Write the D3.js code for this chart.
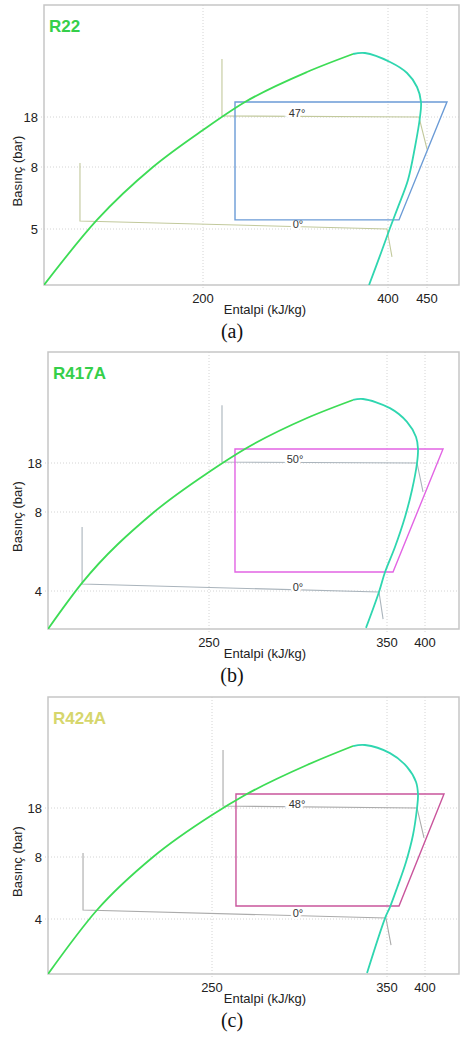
<!DOCTYPE html>
<html>
<head>
<meta charset="utf-8">
<script src="https://cdn.jsdelivr.net/npm/d3@7"></script>
<style>
  body { margin: 0; background: #fff; }
  text { font-family: "Liberation Sans", Arial, sans-serif; }
</style>
</head>
<body>
<div id="chart"></div>
<script>
var svgWidth = 460;
var svgHeight = 1037;

// ---- R22 (a) ----
var r22Name = "R22";
var r22XTicks = [200, 400, 450];
var r22YTicks = [5, 8, 18];
var r22Liquid = [[28.1, 2.29], [85.4, 5.44], [145.9, 8], [200, 15.4], [245.4, 21], [312.4, 27], [362.2, 30.6]];
var r22Vapor = [[362.2, 30.6], [375.1, 30.8], [402.6, 29], [424.4, 26.8], [437.2, 24], [442.3, 21], [441, 18],
                [434.6, 12], [425.6, 7.37], [412.8, 6.06], [402.6, 5.05], [392.4, 3.84], [379.5, 2.29]];
var r22Box = [[234.6, 21], [475.6, 21], [414.1, 5.44], [234.6, 5.44]];
var r22High = [[220.5, 29.6], [220.5, 18.2], [439.7, 18], [450, 11.6]];
var r22Low = [[67, 8.8], [67, 5.39], [398.9, 5], [405.1, 3.65]];
var r22Temps = [["47°", 301.6, 18.8], ["0°", 302.7, 5.24]];

// ---- R417A (b) ----
var r417Name = "R417A";
var r417XTicks = [250, 350, 400];
var r417YTicks = [4, 8, 18];
var r417Liquid = [[159.6, 2.08], [178.7, 4.41], [218.5, 7.95], [250, 16.16], [270.2, 20.86], [305.1, 27.18],
                  [330.9, 30.86]];
var r417Vapor = [[330.9, 30.86], [336.5, 31.06], [353.9, 29.2], [376.3, 26.4], [388.2, 23.3], [390.8, 20.86],
                 [389.5, 18], [382.9, 12.49], [373.7, 7.75], [360.5, 6.23], [348.9, 4.96], [345.5, 3.95], [338.2, 2.13]];
var r417Box = [[264.6, 20.86], [423.7, 20.86], [357.9, 4.96], [264.6, 4.96]];
var r417High = [[257.3, 29.8], [257.3, 18.2], [389.5, 18], [397.4, 12.1]];
var r417Low = [[178.7, 7.24], [178.7, 4.35], [345.5, 3.95], [347.8, 2.58]];
var r417Temps = [["50°", 298.3, 18.8], ["0°", 300, 4.2]];

// ---- R424A (c) ----
var r424Name = "R424A";
var r424XTicks = [250, 350, 400];
var r424YTicks = [4, 8, 18];
var r424Liquid = [[156.3, 0.45], [184.3, 4.58], [216.3, 8], [250, 16.57], [268.9, 20.65], [304.3, 26.78],
                  [330.6, 30.65]];
var r424Vapor = [[330.6, 30.65], [337.4, 30.86], [353.9, 29.2], [376.3, 26.4], [388.2, 23.3], [390.8, 20.65],
                 [389.5, 18], [384.2, 12.49], [375, 7.68], [363.2, 6.0], [353.9, 4.77], [348.9, 4.06], [338.6, 0.52]];
var r424Box = [[263.7, 20.86], [425, 20.86], [365.8, 4.84], [263.7, 4.84]];
var r424High = [[256.3, 29.84], [256.3, 18.4], [389.5, 18], [398.7, 11.88]];
var r424Low = [[176.3, 8.8], [176.3, 4.58], [349.4, 4.06], [355.3, 2.32]];
var r424Temps = [["48°", 298.6, 18.8], ["0°", 299.1, 4.39]];

// layout of the three frames (pixel positions of frame + tick marks)
var panels = [
  { name: r22Name, xTicks: r22XTicks, yTicks: r22YTicks, liquid: r22Liquid, vapor: r22Vapor,
    box: r22Box, high: r22High, low: r22Low, temps: r22Temps, caption: "(a)",
    top: 5, bottom: 285, left: 44, right: 459,
    xAt: [203, 388, 427], yAt: [229, 167, 117],
    titleColor: "#35cf4a", boxColor: "#6b9bd6", cycleColor: "#c2c99c" },
  { name: r417Name, xTicks: r417XTicks, yTicks: r417YTicks, liquid: r417Liquid, vapor: r417Vapor,
    box: r417Box, high: r417High, low: r417Low, temps: r417Temps, caption: "(b)",
    top: 352, bottom: 629, left: 48, right: 459,
    xAt: [209, 387, 425], yAt: [591, 512, 463],
    titleColor: "#35cf4a", boxColor: "#e264e4", cycleColor: "#aab4bc" },
  { name: r424Name, xTicks: r424XTicks, yTicks: r424YTicks, liquid: r424Liquid, vapor: r424Vapor,
    box: r424Box, high: r424High, low: r424Low, temps: r424Temps, caption: "(c)",
    top: 697, bottom: 974, left: 48, right: 459,
    xAt: [212, 387, 425], yAt: [919, 857, 808],
    titleColor: "#d6d66c", boxColor: "#c9559c", cycleColor: "#ababab" }
];

var svg = d3.select("#chart")
  .append("svg")
  .attr("width", svgWidth)
  .attr("height", svgHeight);

panels.forEach(function(pn, i) {
  var x = d3.scaleLinear().domain(pn.xTicks).range(pn.xAt);
  var y = d3.scaleLinear().domain(pn.yTicks).range(pn.yAt);
  var line = d3.line().x(d => x(d[0])).y(d => y(d[1]));
  var liquidLine = d3.line().x(d => x(d[0])).y(d => y(d[1])).curve(d3.curveMonotoneX);
  var vaporLine = d3.line().x(d => x(d[0])).y(d => y(d[1])).curve(d3.curveCatmullRom.alpha(0.5));

  var g = svg.append("g");

  g.append("clipPath").attr("id", "clip" + i)
    .append("rect")
    .attr("x", pn.left).attr("y", pn.top)
    .attr("width", pn.right - pn.left).attr("height", pn.bottom - pn.top);

  // dotted grid
  g.selectAll(".vgrid").data(pn.xTicks).enter().append("line")
    .attr("x1", d => x(d)).attr("x2", d => x(d))
    .attr("y1", pn.top).attr("y2", pn.bottom + 3)
    .attr("stroke", "#d4d4d4").attr("stroke-dasharray", "1,2");
  g.selectAll(".hgrid").data(pn.yTicks).enter().append("line")
    .attr("x1", pn.left - 3).attr("x2", pn.right)
    .attr("y1", d => y(d)).attr("y2", d => y(d))
    .attr("stroke", "#d4d4d4").attr("stroke-dasharray", "1,2");

  // frame
  g.append("rect")
    .attr("x", pn.left).attr("y", pn.top)
    .attr("width", pn.right - pn.left).attr("height", pn.bottom - pn.top)
    .attr("fill", "none").attr("stroke", "#c6c6c6").attr("stroke-width", 1.5);

  var plot = g.append("g").attr("clip-path", "url(#clip" + i + ")");

  // cycle lines
  [pn.high, pn.low].forEach(function(seg) {
    plot.append("path").attr("d", line(seg))
      .attr("fill", "none").attr("stroke", pn.cycleColor).attr("stroke-width", 1.1);
  });

  plot.selectAll(".temp").data(pn.temps).enter().append("text")
    .attr("x", d => x(d[1])).attr("y", d => y(d[2]))
    .attr("text-anchor", "middle").attr("dy", "0.35em")
    .attr("font-size", 11).attr("fill", "#333")
    .attr("stroke", "#fff").attr("stroke-width", 5).attr("paint-order", "stroke")
    .text(d => d[0]);

  // cycle box
  plot.append("path").attr("d", line(pn.box) + "Z")
    .attr("fill", "none").attr("stroke", pn.boxColor).attr("stroke-width", 1.4);

  // saturation dome
  plot.append("path").attr("d", liquidLine(pn.liquid))
    .attr("fill", "none").attr("stroke", "#3ddc55").attr("stroke-width", 1.8);
  plot.append("path").attr("d", vaporLine(pn.vapor))
    .attr("fill", "none").attr("stroke", "#2fd6b0").attr("stroke-width", 1.8);

  // tick labels
  g.selectAll(".xt").data(pn.xTicks).enter().append("text")
    .attr("x", d => x(d)).attr("y", pn.bottom + 13).attr("dy", "0.35em")
    .attr("text-anchor", "middle").attr("font-size", 13).attr("fill", "#222")
    .text(d => d);
  g.selectAll(".yt").data(pn.yTicks).enter().append("text")
    .attr("x", pn.left - 6).attr("y", d => y(d)).attr("dy", "0.35em")
    .attr("text-anchor", "end").attr("font-size", 13).attr("fill", "#222")
    .text(d => d);

  // axis titles
  g.append("text")
    .attr("x", 265).attr("y", pn.bottom + 24).attr("dy", "0.35em")
    .attr("text-anchor", "middle").attr("font-size", 13).attr("fill", "#222")
    .text("Entalpi (kJ/kg)");
  g.append("text")
    .attr("transform", `translate(17, ${(pn.top + pn.bottom) / 2 + 26}) rotate(-90)`)
    .attr("text-anchor", "middle").attr("dy", "0.35em")
    .attr("font-size", 13).attr("fill", "#222")
    .text("Basınç (bar)");

  // refrigerant name
  g.append("text")
    .attr("x", pn.left + 5).attr("y", pn.top + 21).attr("dy", "0.35em")
    .attr("font-size", 17).attr("font-weight", "bold").attr("fill", pn.titleColor)
    .text(pn.name);

  // caption
  g.append("text")
    .attr("x", 232).attr("y", pn.bottom + 46).attr("dy", "0.35em")
    .attr("text-anchor", "middle").attr("font-size", 20).attr("fill", "#111")
    .style("font-family", "'Liberation Serif', 'Times New Roman', serif")
    .text(pn.caption);
});
</script>
</body>
</html>
